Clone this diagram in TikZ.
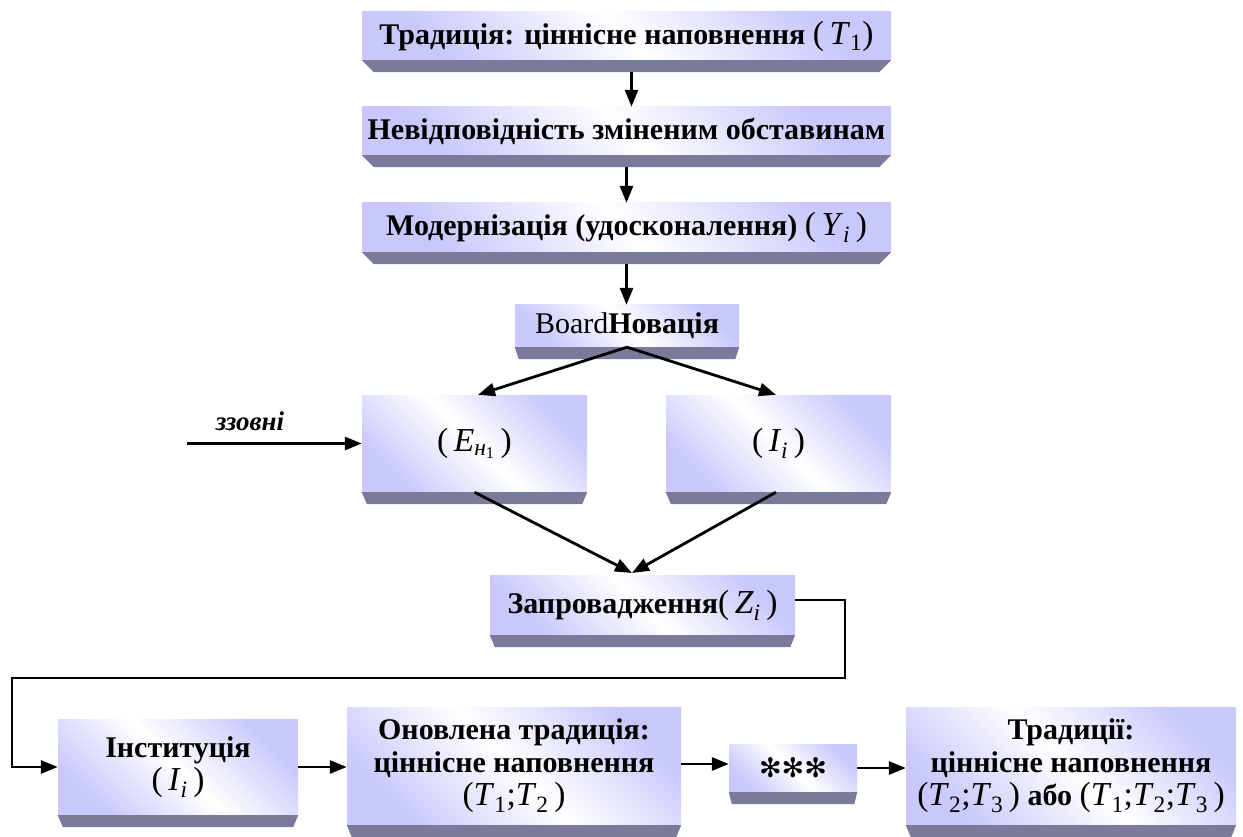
\documentclass[tikz,border=0pt]{standalone}
\usepackage{fontspec}
\setmainfont{Liberation Serif}[BoldFont={Liberation Serif Bold},ItalicFont={Liberation Serif Italic},BoldItalicFont={Liberation Serif Bold Italic}]
\newfontfamily\symfont{DejaVu Sans}
\usetikzlibrary{arrows.meta,calc}

\definecolor{lav}{RGB}{200,200,252}
\definecolor{bandc}{RGB}{122,122,154}

% italic variable with an upright subscript, set in a regular, slightly larger size
\newcommand{\mv}[2]{\textit{#1}\textsubscript{#2}}
\newcommand{\mth}[1]{{\mdseries\fontsize{33.5}{33}\selectfont #1}}

% bevelled base strip under a box face
\newcommand{\bandunder}[2]{%
  \fill[bandc] (#1.south west) -- (#1.south east)
    -- ([xshift=-#2pt,yshift=-12pt]#1.south east)
    -- ([xshift=#2pt,yshift=-12pt]#1.south west) -- cycle;}

\begin{document}
\begin{tikzpicture}[x=1pt,y=-1pt,
  face/.style={shade, top color=lav, bottom color=lav, middle color=white,
    shading angle=-45, inner sep=0pt, align=center,
    font=\bfseries\fontsize{30}{33}\selectfont},
  arr/.style={line width=2.8pt, -{Triangle[length=17pt,width=13pt]}}]
\useasboundingbox (0,0) rectangle (1243,837);

% box faces
\node[face, minimum width=529pt, minimum height=48pt] (t1) at (626.5,36)
  {Традиція: ціннісне наповнення \mth{(\,\mv{T}{1})}};
\node[face, minimum width=529pt, minimum height=48pt] (nev) at (626.5,131)
  {Невідповідність зміненим обставинам};
\node[face, minimum width=529pt, minimum height=49pt] (mod) at (626.5,227.5)
  {Модернізація (удосконалення) \mth{(\,\mv{Y}{\textit{i}}\,)}};
\node[face, minimum width=224pt, minimum height=42pt] (board) at (627,326)
  {\mdseries Board\bfseries Новація};
\node[face, minimum width=225pt, minimum height=97pt] (e) at (474.5,443.5)
  {\mth{(\,\mv{E}{\textit{н}\textsubscript{1}}\,)}};
\node[face, minimum width=225pt, minimum height=97pt] (i) at (778.5,443.5)
  {\mth{(\,\mv{I}{\textit{i}}\,)}};
\node[face, minimum width=305pt, minimum height=60pt] (z) at (642.5,605)
  {Запровадження\mth{(\,\mv{Z}{\textit{i}}\,)}};
\node[face, minimum width=240pt, minimum height=96pt] (inst) at (178,767)
  {Інституція\\\mth{(\,\mv{I}{\textit{i}}\,)}};
\node[face, minimum width=334pt, minimum height=118pt] (onov) at (514,766)
  {Оновлена традиція:\\ціннісне наповнення\\\mth{(\mv{T}{1};\mv{T}{2}\,)}};
\node[face, minimum width=128pt, minimum height=48pt] (stars) at (793,768)
  {\symfont\bfseries\fontsize{27}{27}\selectfont ✻✻✻};
\node[face, minimum width=330pt, minimum height=118pt] (trad) at (1071,766)
  {Традиції:\\ціннісне наповнення\\\mth{(\mv{T}{2};\mv{T}{3}\,)}
   або \mth{(\mv{T}{1};\mv{T}{2};\mv{T}{3}\,)}};

% base strips
\bandunder{t1}{12}
\bandunder{nev}{12}
\bandunder{mod}{12}
\bandunder{board}{4}
\bandunder{e}{5}
\bandunder{i}{5}
\bandunder{z}{5}
\bandunder{inst}{5}
\bandunder{onov}{5}
\bandunder{stars}{3}
\bandunder{trad}{5}

% vertical chain
\draw[arr] ([xshift=5pt,yshift=-12pt]t1.south) -- ([xshift=5pt]nev.north);
\draw[arr] ([yshift=-12pt]nev.south) -- (nev.south |- mod.north);
\draw[arr] ([yshift=-12pt]mod.south) -- (mod.south |- board.north);

% split and merge
\draw[arr] (board.south) -- ([xshift=3.5pt]e.north);
\draw[arr] (board.south) -- ([xshift=-2.5pt]i.north);
\coordinate (ext) at (187,443.5);
\draw[arr] (ext) -- (e.west);
\node[font=\bfseries\itshape\fontsize{27}{27}\selectfont] (extlbl) at (250,421) {ззовні};
\coordinate (merge) at (632,573);
\draw[arr] (e.south) -- (merge);
\draw[arr] ([xshift=-2.5pt]i.south) -- (merge);

% loop back to the bottom row
\coordinate (c1) at (845,678);
\coordinate (c2) at (12,678);
\draw[arr] ([yshift=5pt]z.east) -| (c1) -- (c2) |- (inst.west);

% bottom row
\draw[arr] (inst.east) -- (inst.east -| onov.west);
\draw[arr] ([yshift=2pt]onov.east) -- ([yshift=2pt]onov.east -| stars.west);
\draw[arr] (stars.east) -- (stars.east -| trad.west);
\end{tikzpicture}
\end{document}
